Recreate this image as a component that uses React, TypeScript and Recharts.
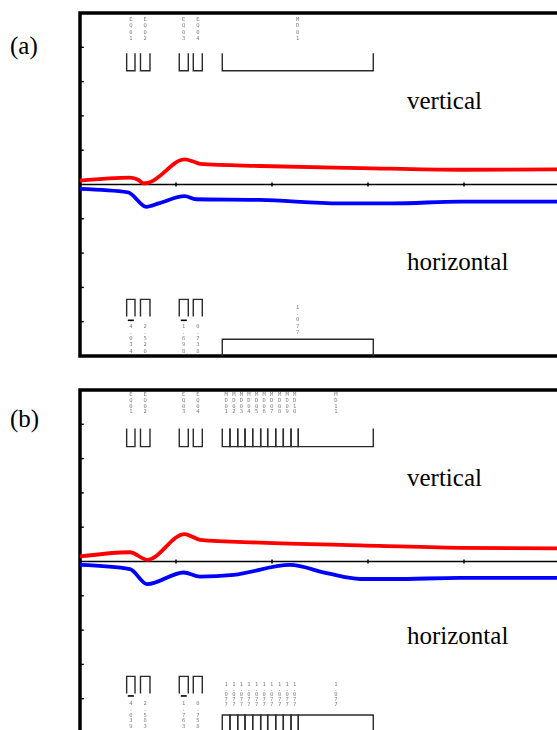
import React from "react";
import {
  ComposedChart,
  Line,
  XAxis,
  YAxis,
  ReferenceLine,
  ReferenceArea,
  Scatter,
} from "recharts";

// ---------- data ----------
const xTicks = [1, 2, 3, 4];
const yTicks = [-4, -3, -2, -1, 1, 2, 3, 4];

// panel (a)
const vertAX = [0, 0.52, 0.61, 0.66, 0.71, 1.09, 1.18, 1.25, 1.875, 2.92, 3.96, 5.0];
const vertAY = [0.11, 0.2, 0.13, 0.035, 0.05, 0.73, 0.67, 0.6, 0.54, 0.48, 0.43, 0.44];
const horAX = [0, 0.5, 0.69, 0.82, 1.09, 1.21, 1.875, 2.71, 3.26, 3.96, 5.0];
const horAY = [-0.13, -0.23, -0.65, -0.55, -0.34, -0.43, -0.45, -0.55, -0.55, -0.5, -0.5];

// panel (b)
const vertBX = [0, 0.52, 0.7, 1.09, 1.18, 1.25, 1.875, 2.92, 3.96, 5.0];
const vertBY = [0.146, 0.27, 0.05, 0.8, 0.71, 0.63, 0.55, 0.47, 0.4, 0.38];
const horBX = [0, 0.52, 0.7, 1.08, 1.25, 1.6, 2.19, 2.57, 2.92, 3.26, 3.96, 5.0];
const horBY = [-0.1, -0.22, -0.66, -0.32, -0.44, -0.39, -0.1, -0.34, -0.51, -0.51, -0.48, -0.48];

// event windows
const eqLabels = ["EQ01", "EQ02", "EQ03", "EQ04"];
const eqStart = [0.486, 0.63, 1.034, 1.18];
const eqEnd = [0.573, 0.729, 1.128, 1.274];
const eqValuesA = ["-4.034", "2.520", "-1.698", "0.738"];
const eqValuesB = ["-4.039", "2.583", "-1.763", "0.758"];

const mdLabelsA = ["MD01"];
const mdStartA = [1.482];
const mdEndA = [3.055];
const mdValuesA = ["1.077"];

const mdLabelsB = ["MD01", "MD02", "MD03", "MD04", "MD05", "MD06", "MD07", "MD08", "MD09", "MD10", "MD11"];
const mdStartB = [1.482, 1.5625, 1.643, 1.719, 1.799, 1.882, 1.955, 2.039, 2.118, 2.198, 2.274];
const mdEndB = [1.5625, 1.643, 1.719, 1.799, 1.882, 1.955, 2.039, 2.118, 2.198, 2.274, 3.055];
const mdValuesB = ["1.077", "1.077", "1.077", "1.077", "1.077", "1.077", "1.077", "1.077", "1.077", "1.077", "1.077"];

const zip = (xs: number[], ys: number[]) => xs.map((x, i) => ({ x, y: ys[i] }));

// ---------- shapes ----------
const SMALL_FONT = "DejaVu Sans Mono";

const stackShape = (spacing: number, signGap: number, hasSign: boolean) => (props: any) => {
  const { cx, cy, payload } = props;
  const text: string = payload.text;
  const neg = text.startsWith("-");
  const chars = (neg ? text.slice(1) : text).split("");
  const start = hasSign ? cy + signGap : cy;
  return (
    <g style={{ filter: "grayscale(1)" }}>
      {neg && (
        <line x1={cx - 3} x2={cx + 3} y1={cy} y2={cy} stroke="#000" strokeWidth={1.6} />
      )}
      {chars.map((c, i) => (
        <text
          key={i}
          x={cx}
          y={start + i * spacing}
          fontSize={5.5}
          fill="#808080"
          textAnchor="middle"
          dominantBaseline="central"
          fontFamily={SMALL_FONT}
        >
          {c}
        </text>
      ))}
    </g>
  );
};

const bigTextShape = (props: any) => {
  const { cx, cy, payload } = props;
  return (
    <text x={cx} y={cy} fontSize={25} fill="#000" fontFamily="'Liberation Serif', 'Times New Roman', serif">
      {payload.text}
    </text>
  );
};

type Bracket = { x1: number; x2: number; open: number; closed: number };

const bracketPts = (b: Bracket) => [
  { x: b.x1, y: b.open },
  { x: b.x1, y: b.closed },
  { x: b.x2, y: b.closed },
  { x: b.x2, y: b.open },
];

type PanelProps = {
  vert: { x: number; y: number }[];
  hor: { x: number; y: number }[];
  mdLabels: string[];
  mdStart: number[];
  mdEnd: number[];
  mdValues: string[];
  eqValues: string[];
  top: { open: number; closed: number; labelY: number; spacing: number };
  bottomEq: { open: number; closed: number; signY: number; gap: number; spacing: number };
  bottomMd: { top: number; labelY: number; spacing: number };
  textY: { vertical: number; horizontal: number };
};

const Panel = (p: PanelProps) => {
  const topBrackets: Bracket[] = [
    ...eqStart.map((s, i) => ({ x1: s, x2: eqEnd[i], open: p.top.open, closed: p.top.closed })),
    ...p.mdStart.map((s, i) => ({ x1: s, x2: p.mdEnd[i], open: p.top.open, closed: p.top.closed })),
  ];
  const bottomBrackets: Bracket[] = [
    ...eqStart.map((s, i) => ({ x1: s, x2: eqEnd[i], open: p.bottomEq.open, closed: p.bottomEq.closed })),
    ...p.mdStart.map((s, i) => ({ x1: s, x2: p.mdEnd[i], open: -5, closed: p.bottomMd.top })),
  ];
  const topLabels = [
    ...eqLabels.map((t, i) => ({ x: (eqStart[i] + eqEnd[i]) / 2, y: p.top.labelY, text: t })),
    ...p.mdLabels.map((t, i) => ({ x: (p.mdStart[i] + p.mdEnd[i]) / 2, y: p.top.labelY, text: t })),
  ];
  const eqValLabels = p.eqValues.map((t, i) => ({ x: (eqStart[i] + eqEnd[i]) / 2, y: p.bottomEq.signY, text: t }));
  const mdValLabels = p.mdValues.map((t, i) => ({ x: (p.mdStart[i] + p.mdEnd[i]) / 2, y: p.bottomMd.labelY, text: t }));
  const bigTexts = [
    { x: 3.406, y: p.textY.vertical, text: "vertical" },
    { x: 3.406, y: p.textY.horizontal, text: "horizontal" },
  ];

  return (
    <ComposedChart width={562} height={353} margin={{ top: 5, right: 10, bottom: 5, left: 72 }}>
      <XAxis type="number" dataKey="x" domain={[0, 5]} hide allowDataOverflow />
      <YAxis type="number" dataKey="y" domain={[-5, 5]} hide allowDataOverflow />
      <ReferenceLine y={0} stroke="#000" strokeWidth={1.4} />
      {xTicks.map((t) => (
        <ReferenceLine
          key={"xt" + t}
          segment={[
            { x: t, y: -0.055 },
            { x: t, y: 0.055 },
          ]}
          stroke="#000"
          strokeWidth={1.5}
        />
      ))}
      {yTicks.map((t) => (
        <ReferenceLine
          key={"yt" + t}
          segment={[
            { x: 0, y: t },
            { x: 0.04, y: t },
          ]}
          stroke="#000"
          strokeWidth={1.4}
        />
      ))}
      {topBrackets.map((b, i) => (
        <Line
          key={"tb" + i}
          data={bracketPts(b)}
          dataKey="y"
          type="linear"
          dot={false}
          stroke="#2a2a2a"
          strokeWidth={1.4}
          isAnimationActive={false}
        />
      ))}
      {bottomBrackets.map((b, i) => (
        <Line
          key={"bb" + i}
          data={bracketPts(b)}
          dataKey="y"
          type="linear"
          dot={false}
          stroke="#2a2a2a"
          strokeWidth={1.4}
          isAnimationActive={false}
        />
      ))}
      <Line data={p.vert} dataKey="y" type="monotone" dot={false} stroke="#ff0000" strokeWidth={3.8} isAnimationActive={false} />
      <Line data={p.hor} dataKey="y" type="monotone" dot={false} stroke="#0000ff" strokeWidth={3.8} isAnimationActive={false} />
      <Scatter data={topLabels} dataKey="y" shape={stackShape(p.top.spacing, 0, false)} isAnimationActive={false} />
      <Scatter data={eqValLabels} dataKey="y" shape={stackShape(p.bottomEq.spacing, p.bottomEq.gap, true)} isAnimationActive={false} />
      <Scatter data={mdValLabels} dataKey="y" shape={stackShape(p.bottomMd.spacing, 0, false)} isAnimationActive={false} />
      <Scatter data={bigTexts} dataKey="y" shape={bigTextShape} isAnimationActive={false} />
      <ReferenceArea x1={0} x2={5} y1={-5} y2={5} fill="none" fillOpacity={0} stroke="#000" strokeWidth={3.5} />
    </ComposedChart>
  );
};

const panelLabelStyle: React.CSSProperties = {
  position: "absolute",
  left: 10,
  fontFamily: "'Liberation Serif', 'Times New Roman', serif",
  fontSize: 25,
  lineHeight: "25px",
  color: "#000",
};

export default function App() {
  return (
    <div
      style={{
        position: "fixed",
        left: 0,
        top: 0,
        width: 557,
        height: 730,
        overflow: "hidden",
        background: "#fff",
      }}
    >
      <div style={{ ...panelLabelStyle, top: 33 }}>(a)</div>
      <div style={{ ...panelLabelStyle, top: 406 }}>(b)</div>
      <div style={{ position: "absolute", left: 8, top: 8 }}>
        <Panel
          vert={zip(vertAX, vertAY)}
          hor={zip(horAX, horAY)}
          mdLabels={mdLabelsA}
          mdStart={mdStartA}
          mdEnd={mdEndA}
          mdValues={mdValuesA}
          eqValues={eqValuesA}
          top={{ open: 3.825, closed: 3.318, labelY: 4.825, spacing: 6.4 }}
          bottomEq={{ open: -3.85, closed: -3.35, signY: -3.96, gap: 5.3, spacing: 6.25 }}
          bottomMd={{ top: -4.51, labelY: -3.57, spacing: 6.2 }}
          textY={{ vertical: 2.2, horizontal: -2.49 }}
        />
      </div>
      <div style={{ position: "absolute", left: 8, top: 385 }}>
        <Panel
          vert={zip(vertBX, vertBY)}
          hor={zip(horBX, horBY)}
          mdLabels={mdLabelsB}
          mdStart={mdStartB}
          mdEnd={mdEndB}
          mdValues={mdValuesB}
          eqValues={eqValuesB}
          top={{ open: 3.88, closed: 3.35, labelY: 4.88, spacing: 5.7 }}
          bottomEq={{ open: -3.85, closed: -3.35, signY: -3.92, gap: 7, spacing: 5.8 }}
          bottomMd={{ top: -4.475, labelY: -3.557, spacing: 5 }}
          textY={{ vertical: 2.2, horizontal: -2.4 }}
        />
      </div>
    </div>
  );
}
